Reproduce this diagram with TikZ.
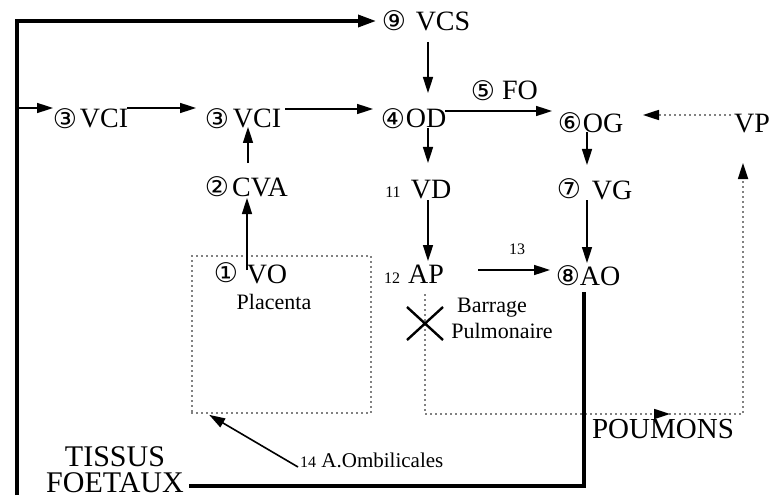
\documentclass[tikz,border=0pt]{standalone}
\usepackage{fontspec}
\setmainfont{Liberation Serif}
\newfontfamily\cfont{DejaVu Sans}
\usetikzlibrary{arrows.meta,calc}
\begin{document}
\begin{tikzpicture}[x=1pt,y=-1pt,
  tip/.tip={Triangle[length=16pt,width=10pt]},
  big/.style={font=\fontsize{28}{30}\selectfont,inner sep=0pt,anchor=base},
  mid/.style={font=\fontsize{22}{24}\selectfont,inner sep=0pt,anchor=base},
  tiny/.style={font=\fontsize{16}{18}\selectfont,inner sep=0pt,anchor=base},
  circnum/.style={font=\cfont\fontsize{27}{28}\selectfont,inner sep=0pt,anchor=center},
  arr/.style={line width=1.6pt,-tip},
  heavy/.style={line width=3.5pt},
  dotline/.style={line width=1.7pt,line cap=round,dash pattern=on 0pt off 5pt},
  dotbox/.style={draw,line width=1.7pt,line cap=round,dash pattern=on 0pt off 5pt,inner sep=0pt}
]
\useasboundingbox (0,0) rectangle (779,500);

% text nodes
\node[big] (vcs) at (443,31) {VCS};
\node[big] (vci1) at (104,128) {VCI};
\node[big] (vci2) at (257,128) {VCI};
\node[big] (cva) at (260,196) {CVA};
\node[big] (od) at (426,128) {OD};
\node[big] (fo) at (520,100) {FO};
\node[big] (og) at (603,132) {OG};
\node[big] (vp) at (752,132) {VP};
\node[big] (vd) at (431,198) {VD};
\node[big] (vg) at (612,199) {VG};
\node[big] (vo) at (267,283) {VO};
\node[big] (ap) at (426,283) {AP};
\node[big] (ao) at (600,285) {AO};

\node[circnum] (n9) at (394,21) {⑨};
\node[circnum] (n3a) at (65,119) {③};
\node[circnum] (n3b) at (217,119) {③};
\node[circnum] (n2) at (217,187) {②};
\node[circnum] (n4) at (393,119) {④};
\node[circnum] (n5) at (483,91) {⑤};
\node[circnum] (n6) at (570,123) {⑥};
\node[circnum] (n7) at (569,189) {⑦};
\node[circnum] (n1) at (226,273) {①};
\node[circnum] (n8) at (568,276) {⑧};

\node[tiny] (t11) at (393,197) {11};
\node[tiny] (t12) at (392,283) {12};
\node[tiny] (t13) at (517,254) {13};

\node[mid] (plac) at (274,309) {Placenta};
\node[mid] (barr) at (492,312) {Barrage};
\node[mid] (pulm) at (502,338) {Pulmonaire};
\node[font=\fontsize{30}{26}\selectfont,inner sep=0pt,align=center,anchor=south] (tissus) at (115,493) {TISSUS\\FOETAUX};
\node[font=\fontsize{29}{30}\selectfont,inner sep=0pt,anchor=base] (poumons) at (663,438) {POUMONS};
\node[font=\fontsize{21}{22}\selectfont,inner sep=0pt,anchor=base west] (omb) at (300,467) {{\fontsize{16}{18}\selectfont 14} A.Ombilicales};

\node[dotbox,minimum width=179pt,minimum height=157pt] (box) at (281.5,334.5) {};

% thick return line to VCS
\coordinate (tb) at (17,495);
\coordinate (tc) at (17,21);
\coordinate (tl) at (17,108);
\draw[heavy,-{Triangle[length=18pt,width=12pt]}] (tb) -- (tc) -- ($(n9)+(-18,0)$);
\draw[arr] (tl) -- ($(n3a)+(-12,-11)$);
\draw[arr] ($(vci1.base)+(23,-20)$) -- ($(n3b)+(-21,-11)$);
\draw[arr] ($(vci2.base)+(28,-19)$) -- ($(n4)+(-20,-10)$);
\draw[arr] ($(cva.base)+(-12,-33)$) -- ($(vci2.base)+(-9,-1)$);
\draw[arr] ($(vo.base)+(-20,-13)$) -- ($(cva.base)+(-13,2)$);
\draw[arr] ($(vcs.base)+(-15,11)$) -- ($(od.base)+(2,-35)$);
\draw[arr] ($(od.base)+(19,-17)$) -- ($(n6)+(-18,-12)$);
\draw[dotline,-tip] ($(vp.base)+(-22,-17)$) -- ($(og.base)+(40,-17)$);
\draw[arr] ($(od.base)+(2,0)$) -- ($(vd.base)+(-3,-35)$);
\draw[arr] ($(og.base)+(-16,0)$) -- ($(vg.base)+(-25,-34)$);
\draw[arr] ($(vd.base)+(-3,2)$) -- ($(ap.base)+(2,-22)$);
\draw[arr] ($(vg.base)+(-25,1)$) -- ($(ao.base)+(-13,-22)$);
\draw[arr] ($(ap.base)+(52,-13)$) -- ($(n8)+(-18,-6)$);
\draw[heavy] ($(ao.base)+(-16,7)$) |- ($(tissus.south east)+(5,-7)$);
\draw[arr] ($(omb.base west)+(-2,0)$) -- ($(box.south west)+(18,1)$);

% pulmonary dotted loop
\coordinate (pm) at (670,414);
\draw[dotline,-tip] ($(ap.base)+(-1,12)$) |- (pm);
\draw[dotline,-tip] (pm) -| ($(vp.base)+(-9,31)$);

% barrage cross
\coordinate (xc) at (425,323);
\draw[line width=2.4pt] ($(xc)+(-18,-16)$) -- ($(xc)+(18,17)$)
                        ($(xc)+(-18,17)$) -- ($(xc)+(18,-16)$);
\end{tikzpicture}
\end{document}
